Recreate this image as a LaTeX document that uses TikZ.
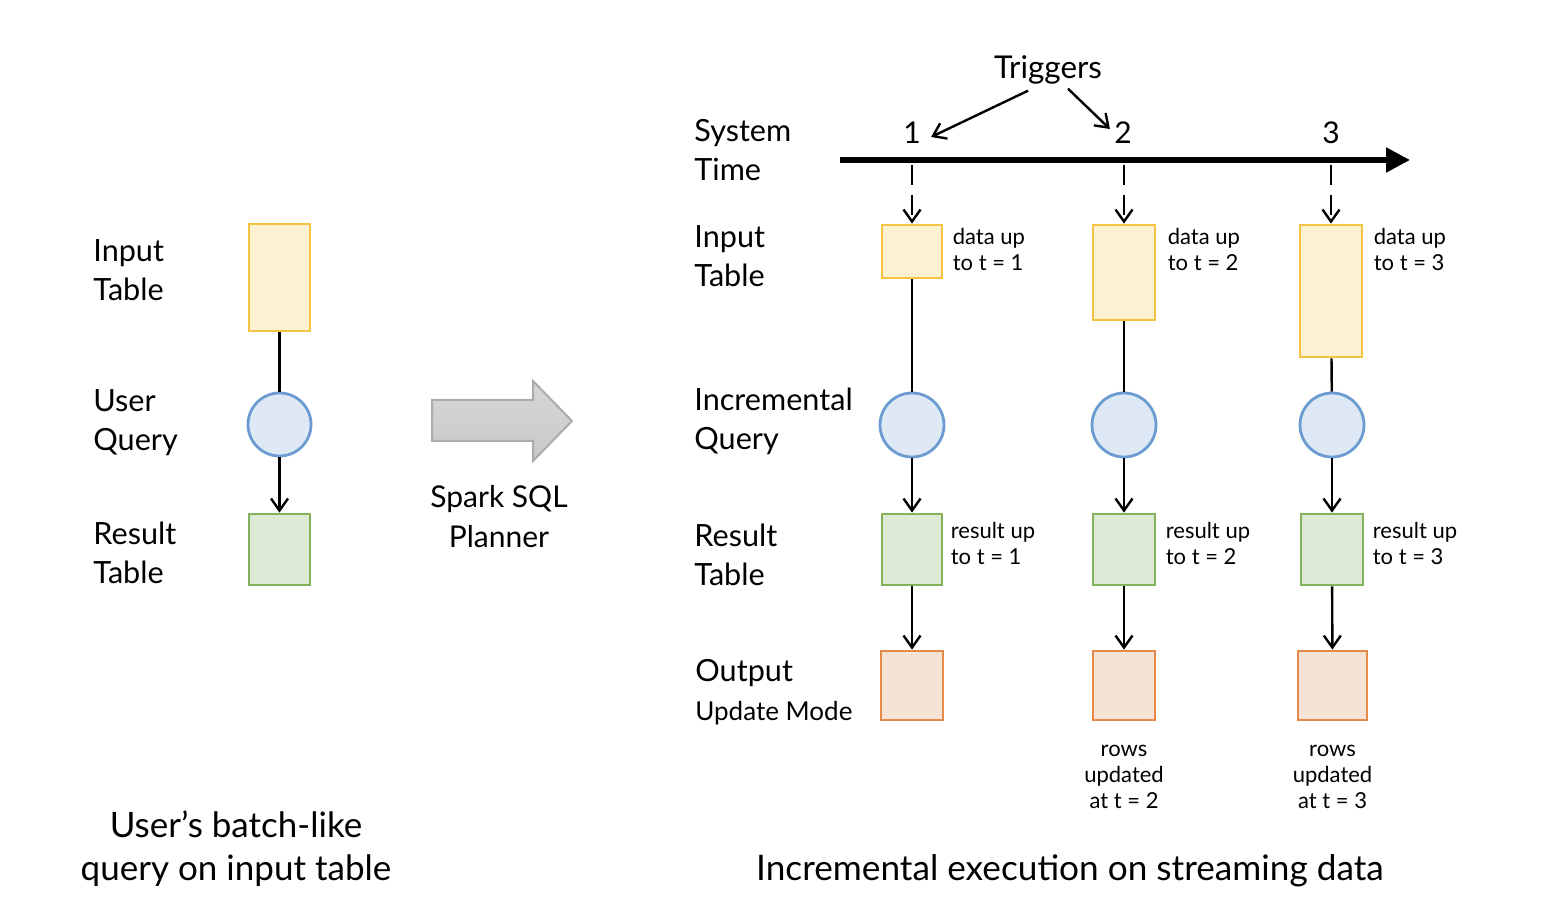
\documentclass[tikz,border=0pt]{standalone}
\usepackage{fontspec}
\setmainfont{Lato}
\usetikzlibrary{positioning,arrows.meta}
\tikzset{>=stealth}

\definecolor{inFill}{HTML}{FCF1D0}
\definecolor{inEdge}{HTML}{F4C343}
\definecolor{qFill}{HTML}{DFE9F5}
\definecolor{qEdge}{HTML}{6C9BD2}
\definecolor{resFill}{HTML}{DDEAD5}
\definecolor{resEdge}{HTML}{82B35A}
\definecolor{outFill}{HTML}{F7E3D6}
\definecolor{outEdge}{HTML}{E58A4B}
\definecolor{planFill}{HTML}{C9C9C9}
\definecolor{planEdge}{HTML}{ABABAB}

\tikzset{
  box/.style={draw,line width=1.4pt,inner sep=0pt,minimum width=30.5pt},
  intab/.style={box,draw=inEdge,fill=inFill},
  restab/.style={box,draw=resEdge,fill=resFill,minimum height=35.5pt},
  outtab/.style={box,draw=outEdge,fill=outFill,minimum height=34.5pt},
  query/.style={circle,draw=qEdge,fill=qFill,line width=1.4pt,inner sep=0pt,minimum size=31.5pt},
  lbl/.style={anchor=west,align=left,inner sep=0pt,font=\fontsize{15.3}{19.5}\selectfont},
  note/.style={align=left,inner sep=0pt,font=\fontsize{11}{13}\selectfont},
  flow/.style={-{Straight Barb[length=6pt,width=8.5pt]},line width=1.2pt},
}

\begin{document}
\begin{tikzpicture}[x=0.5pt,y=-0.5pt]
\useasboundingbox (0,0) rectangle (1556,924);

% batch query on the left
\node[lbl] (lin) at (93,270) {Input\\Table};
\node[lbl] (lq) at (93,423) {User\\Query};
\node[lbl] (lres) at (93,553) {Result\\Table};
\node[intab,minimum height=53.5pt] (bin) at (279.5,277.5) {};
\node[query] (bq) at (279.5,424.5) {};
\node[restab] (bres) at (279.5,549.5) {};
\draw[line width=1.2pt] (bin) -- (bq);
\draw[flow] (bq) -- (bres);
\node[align=center,inner sep=0pt,font=\fontsize{17.5}{21.5}\selectfont] (bcap) at (236,849) {User's batch-like\\query on input table};

% planner arrow
\draw[planEdge,line width=1pt,top color=planFill!75,bottom color=planFill] (432,400) -- (533,400) -- (533,381) -- (572,421) -- (533,461) -- (533,441) -- (432,441) -- cycle;
\node[align=center,inner sep=0pt,font=\fontsize{15}{20}\selectfont] (plan) at (499,517) {Spark SQL\\Planner};

% system time and triggers
\node[lbl] (lsys) at (694,150) {System\\Time};
\coordinate (t0) at (840,160);
\coordinate (t1) at (1410,160);
\draw[line width=2.6pt,-{Triangle[length=12pt,width=12pt]}] (t0) -- (t1);
\node[font=\fontsize{15}{18}\selectfont,inner sep=2pt] (n1) at (912,133) {1};
\node[font=\fontsize{15}{18}\selectfont,inner sep=2pt] (n2) at (1123,133) {2};
\node[font=\fontsize{15}{18}\selectfont,inner sep=2pt] (n3) at (1331,133) {3};
\node[font=\fontsize{15.7}{18}\selectfont,inner sep=1pt] (trig) at (1048,70) {Triggers};
\draw[flow] ([xshift=-10pt,yshift=-2pt]trig.south) -- ([xshift=3pt,yshift=-2pt]n1.east);
\draw[flow] ([xshift=10pt,yshift=-1pt]trig.south) -- ([yshift=2pt]n2.west);

% incremental execution on the right
\node[lbl] (rin) at (694,256) {Input\\Table};
\node[lbl] (rq) at (694,421) {Incremental\\Query};
\node[lbl] (rres) at (694,555) {Result\\Table};
\node[lbl] (rout) at (695,692) {Output\\{\fontsize{13}{15}\selectfont Update Mode}};

\node[intab,minimum width=30pt,minimum height=26.5pt] (in1) at (912,251.5) {};
\node[intab,minimum width=31pt,minimum height=47.5pt] (in2) at (1124,272.5) {};
\node[intab,minimum width=31pt,minimum height=66pt] (in3) at (1331,291) {};
\node[query,minimum size=32pt] (q1) at (912,425) {};
\node[query,minimum size=32pt] (q2) at (1124,425) {};
\node[query,minimum size=32pt] (q3) at (1332,425) {};
\node[restab,minimum width=30pt] (res1) at (912,549.5) {};
\node[restab,minimum width=31pt] (res2) at (1124,549.5) {};
\node[restab,minimum width=31pt] (res3) at (1332,549.5) {};
\node[outtab,minimum width=31pt] (out1) at (912,685.5) {};
\node[outtab,minimum width=31pt] (out2) at (1124,685.5) {};
\node[outtab,minimum width=34.5pt] (out3) at (1332.5,685.5) {};

\coordinate (tk1) at (912,165);
\coordinate (tk2) at (1124,165);
\coordinate (tk3) at (1331,165);
\draw[flow,dash pattern=on 10pt off 5pt] (tk1) -- (in1);
\draw[flow,dash pattern=on 10pt off 5pt] (tk2) -- (in2);
\draw[flow,dash pattern=on 10pt off 5pt] (tk3) -- (in3);

\draw[line width=1.2pt] (in1) -- (q1);
\draw[line width=1.2pt] (in2) -- (q2);
\draw[line width=1.2pt] (in3) -- (q3);
\draw[flow] (q1) -- (res1);
\draw[flow] (q2) -- (res2);
\draw[flow] (q3) -- (res3);
\draw[flow] (res1) -- (out1);
\draw[flow] (res2) -- (out2);
\draw[flow] (res3) -- (out3);

\node[note,right=4.5pt of in1.north east,anchor=north west,yshift=-2pt] (d1) {data up\\to t = 1};
\node[note,right=5.5pt of in2.north east,anchor=north west,yshift=-2pt] (d2) {data up\\to t = 2};
\node[note,right=5pt of in3.north east,anchor=north west,yshift=-2pt] (d3) {data up\\to t = 3};
\node[note,right=3.5pt of res1.north east,anchor=north west,yshift=-4.5pt] (r1) {result up\\to t = 1};
\node[note,right=4.5pt of res2.north east,anchor=north west,yshift=-4.5pt] (r2) {result up\\to t = 2};
\node[note,right=4pt of res3.north east,anchor=north west,yshift=-4.5pt] (r3) {result up\\to t = 3};
\node[note,align=center,below=11.5pt of out2] (u2) {rows\\updated\\at t = 2};
\node[note,align=center,below=11.5pt of out3] (u3) {rows\\updated\\at t = 3};

\node[inner sep=0pt,font=\fontsize{17.6}{21.5}\selectfont] (rcap) at (1070,871) {Incremental execution on streaming data};
\end{tikzpicture}
\end{document}
